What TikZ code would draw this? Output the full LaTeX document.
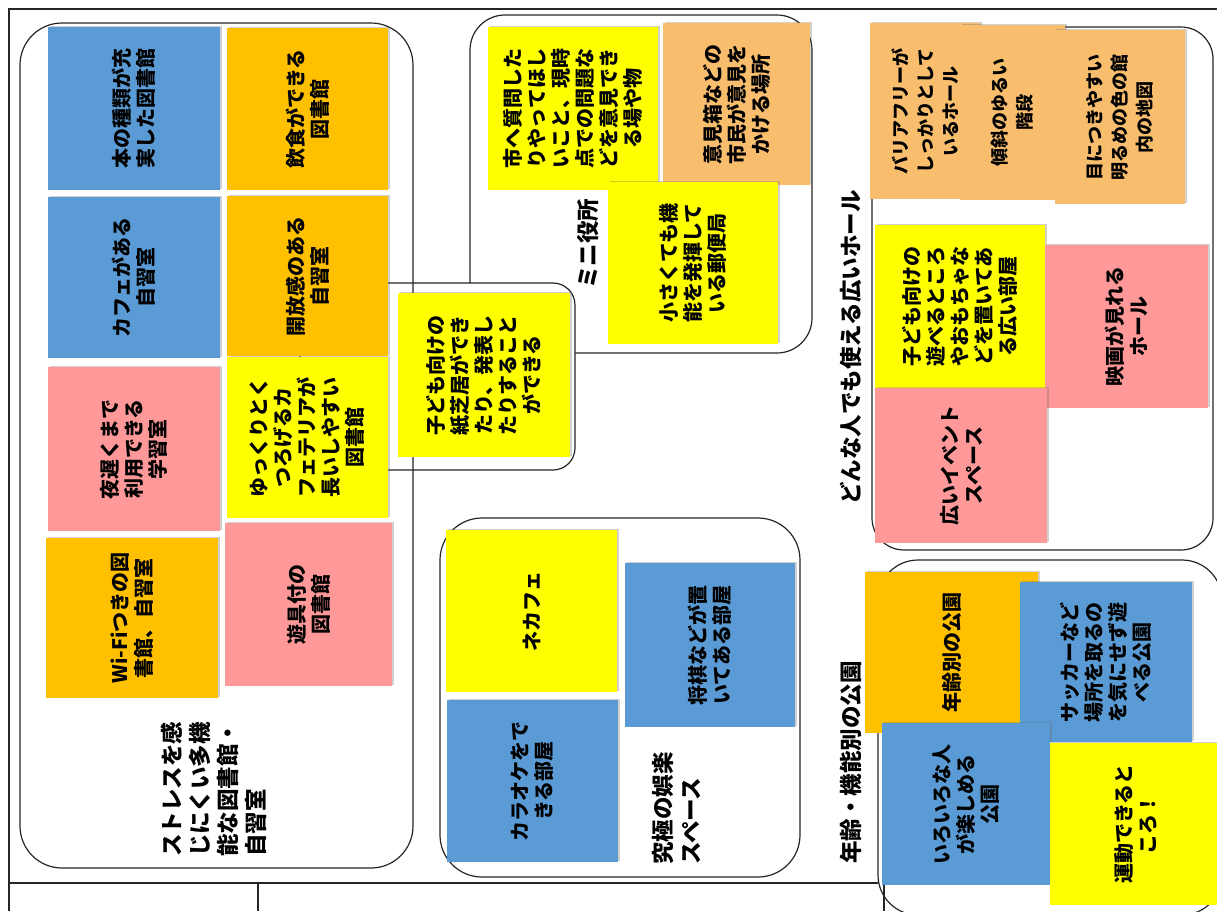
\documentclass[tikz,border=0pt]{standalone}
\usepackage{fontspec}
\newfontfamily\jp{Noto Sans CJK JP}
\usetikzlibrary{shadows}
\definecolor{nblue}{RGB}{91,155,213}
\definecolor{norange}{RGB}{255,192,0}
\definecolor{npink}{RGB}{255,153,153}
\definecolor{nyellow}{RGB}{255,255,0}
\definecolor{ntan}{RGB}{248,190,110}
\tikzset{
  frame/.style={line width=1.3pt, black!85},
  region/.style={line width=1.2pt, black!85},
  notefill/.style={fill=#1, drop shadow={shadow xshift=1.5pt, shadow yshift=1.5pt, opacity=0.3, fill=black!60}},
  notetext/.style={rotate=90, align=center, inner sep=0pt, font=\jp\bfseries\fontsize{20}{24}\selectfont},
  smalltext/.style={rotate=90, align=center, inner sep=0pt, font=\jp\bfseries\fontsize{18}{25}\selectfont},
  grouplabel/.style={rotate=90, align=left, inner sep=0pt, font=\jp\bfseries\fontsize{22.5}{28}\selectfont},
}
% name, x1, y1, x2, y2, colour, text style, text
\newcommand{\mknote}[8]{%
  \path[notefill=#6] (#2,#3) rectangle (#4,#5);
  \node[#7] (#1) at ({(#2+#4)/2},{(#3+#5)/2}) {#8};
}
\begin{document}
\begin{tikzpicture}[x=1pt, y=-1pt]
\useasboundingbox (0,0) rectangle (1217,911);
\fill[white] (0,0) rectangle (1217,911);
% outer frame
\draw[frame] (9,911) -- (9,9) -- (1217,9);
\draw[frame] (9,883) -- (878,883);
\draw[frame] (258,883) -- (258,911);
\draw[frame] (884,883) -- (884,911);
% region boxes
\draw[region, rounded corners=35pt] (470,15) rectangle (812,353);
\draw[region, fill=white, rounded corners=22pt] (300,283) rectangle (575,470);
\draw[region, rounded corners=42pt] (20,23) rectangle (413,868);
\draw[region, rounded corners=42pt] (440,518) rectangle (800,877);
\draw[region, rounded corners=32pt] (872,27) rectangle (1213,550);
\draw[region, rounded corners=40pt] (878,560) rectangle (1222,915);
% library notes
\mknote{l1}{48}{27}{220}{190}{nblue}{notetext}{本の種類が充\\実した図書館}
\mknote{l2}{227}{28}{388}{190}{norange}{notetext}{飲食ができる\\図書館}
\mknote{l3}{48}{197}{220}{358}{nblue}{notetext}{カフェがある\\自習室}
\mknote{l4}{227}{196}{388}{356}{norange}{notetext}{開放感のある\\自習室}
\mknote{l5}{48}{367}{220}{531}{npink}{notetext}{夜遅くまで\\利用できる\\学習室}
\mknote{l6}{227}{357}{388}{518}{nyellow}{notetext}{ゆっくりとく\\つろげるカ\\フェテリアが\\長いしやすい\\図書館}
\mknote{l7}{46}{538}{218}{698}{norange}{notetext}{Wi-Fiつきの図\\書館、自習室}
\mknote{l8}{225}{523}{392}{686}{npink}{notetext}{遊具付の\\図書館}
% kamishibai note
\mknote{k1}{398}{293}{570}{457}{nyellow}{notetext}{子ども向けの\\紙芝居ができ\\たり、発表し\\たりすること\\ができる}
% mini city office notes
\mknote{m1}{488}{27}{658}{190}{nyellow}{notetext}{市へ質問した\\りやってほし\\いこと、現時\\点での問題な\\どを意見でき\\る場や物}
\mknote{m2}{663}{23}{810}{185}{ntan}{notetext}{意見箱などの\\市民が意見を\\かける場所}
\mknote{m3}{608}{182}{778}{344}{nyellow}{notetext}{小さくても機\\能を発揮して\\いる郵便局}
% entertainment notes
\mknote{g1}{446}{530}{617}{692}{nyellow}{notetext}{ネカフェ}
\mknote{g2}{447}{700}{618}{862}{nblue}{notetext}{カラオケをで\\きる部屋}
\mknote{g3}{625}{563}{795}{727}{nblue}{notetext}{将棋などが置\\いてある部屋}
% hall notes
\mknote{h1}{870}{23}{980}{199}{ntan}{smalltext}{バリアフリーが\\しっかりとして\\いるホール}
\mknote{h2}{960}{25}{1065}{200}{ntan}{smalltext}{傾斜のゆるい\\階段}
\mknote{h3}{1055}{30}{1185}{204}{ntan}{smalltext}{目につきやすい\\明るめの色の館\\内の地図}
\mknote{h4}{875}{225}{1045}{388}{nyellow}{notetext}{子ども向けの\\遊べるところ\\やおもちゃな\\どを置いてあ\\る広い部屋}
\mknote{h5}{1045}{245}{1208}{408}{npink}{notetext}{映画が見れる\\ホール}
\mknote{h6}{875}{388}{1047}{543}{npink}{notetext}{広いイベント\\スペース}
% park notes
\mknote{p1}{865}{572}{1038}{733}{norange}{notetext}{年齢別の公園}
\mknote{p2}{1020}{582}{1192}{742}{nblue}{notetext}{サッカーなど\\場所を取るの\\を気にせず遊\\べる公園}
\mknote{p3}{882}{723}{1050}{885}{nblue}{notetext}{いろいろな人\\が楽しめる\\公園}
\mknote{p4}{1050}{743}{1222}{905}{nyellow}{notetext}{運動できると\\ころ！}
% group labels
\node[grouplabel, anchor=north west] (lablib) at (161,857) {ストレスを感\\じにくい多機\\能な図書館・\\自習室};
\node[grouplabel, anchor=west] (labcity) at (588,289) {ミニ役所};
\node[grouplabel, anchor=north west] (labfun) at (652,865) {究極の娯楽\\スペース};
\node[grouplabel, anchor=west] (labhall) at (851,505) {どんな人でも使える広いホール};
\node[grouplabel, anchor=west] (labpark) at (851,864) {年齢・機能別の公園};
\end{tikzpicture}
\end{document}
